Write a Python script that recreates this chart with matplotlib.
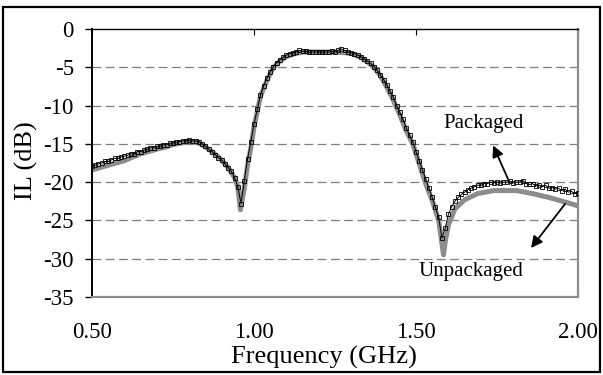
import numpy as np
import matplotlib
matplotlib.use("Agg")
import matplotlib.pyplot as plt
from matplotlib.patches import Rectangle

# frequency grid of the measured trace (GHz)
freq_pkg = np.round(np.arange(0.50, 2.001, 0.01), 2)
il_pkg = [
    -17.9, -17.8, -17.6, -17.5, -17.3, -17.3, -17.1, -16.9, -16.9, -16.7,
    -16.6, -16.5, -16.3, -16.3, -16.0, -16.0, -15.8, -15.7, -15.5, -15.5,
    -15.3, -15.3, -15.1, -15.1, -14.9, -14.9, -14.8, -14.7, -14.6, -14.6,
    -14.5, -14.6, -14.6, -14.7, -15.0, -15.3, -15.7, -16.0, -16.4, -16.8,
    -17.1, -17.6, -18.1, -18.6, -19.4, -20.6, -22.8, -19.8, -17.0, -14.8,
    -12.4, -10.5, -8.6, -7.4, -6.4, -5.6, -4.9, -4.4, -4.0, -3.7,
    -3.4, -3.2, -3.1, -3.0, -2.8, -2.9, -2.9, -3.0, -3.0, -3.0,
    -3.0, -3.0, -3.0, -3.0, -2.9, -3.0, -2.8, -2.6, -2.8, -3.0,
    -3.1, -3.2, -3.4, -3.6, -3.9, -4.2, -4.5, -4.9, -5.4, -6.0,
    -6.6, -7.3, -8.1, -8.9, -10.0, -10.9, -11.8, -12.9, -13.9, -14.8,
    -16.0, -17.2, -18.4, -19.6, -20.8, -22.0, -23.3, -24.6, -27.3, -26.0,
    -24.2, -23.2, -22.5, -22.0, -21.6, -21.3, -21.0, -20.8, -20.6, -20.4,
    -20.4, -20.2, -20.2, -20.0, -20.1, -20.0, -20.1, -20.0, -20.0, -19.9,
    -20.1, -20.0, -20.0, -19.8, -20.2, -20.3, -20.2, -20.5, -20.4, -20.6,
    -20.4, -20.8, -20.7, -20.9, -20.8, -21.1, -20.9, -21.3, -21.2, -21.5,
    -21.4,
]

freq_unpkg = [0.50, 0.55, 0.60, 0.627, 0.65, 0.70, 0.73, 0.75, 0.80, 0.83,
              0.85, 0.87, 0.90, 0.92, 0.94, 0.95, 0.958, 0.97, 0.98, 0.99,
              1.00, 1.02, 1.04, 1.06, 1.08, 1.10, 1.12, 1.14, 1.16, 1.20,
              1.25, 1.28, 1.30, 1.33, 1.35, 1.37, 1.39, 1.41, 1.43, 1.45,
              1.47, 1.49, 1.51, 1.53, 1.55, 1.57, 1.58, 1.585, 1.59, 1.60,
              1.62, 1.65, 1.69, 1.74, 1.81, 1.86, 1.91, 1.96, 2.00]
il_unpkg = [-18.4, -17.8, -17.2, -16.7, -16.3, -15.7, -15.4, -15.1, -14.7, -14.9,
            -15.4, -16.0, -17.1, -18.1, -19.4, -20.6, -23.6, -20.8, -17.8, -15.6,
            -12.8, -8.8, -6.7, -5.0, -4.2, -3.6, -3.3, -3.1, -3.0, -3.0,
            -3.0, -3.1, -3.2, -3.7, -4.3, -5.0, -6.1, -7.6, -9.3, -11.2,
            -13.3, -15.0, -17.6, -20.2, -22.4, -25.0, -28.0, -29.5, -27.8, -25.6,
            -23.5, -22.3, -21.5, -21.1, -21.1, -21.5, -22.0, -22.6, -23.1]

xticks = [0.5, 1.0, 1.5, 2.0]
xtick_labels = ["0.50", "1.00", "1.50", "2.00"]
yticks = [0, -5, -10, -15, -20, -25, -30, -35]

plt.rcParams["font.family"] = ["Liberation Serif", "DejaVu Serif"]

fig = plt.figure(figsize=(6.03, 3.75), dpi=100)
ax = fig.add_axes([92/603, 1-297/375, (578-92)/603, (297-29)/375])

ax.plot(freq_unpkg, il_unpkg, color="#8c8c8c", lw=3.6, zorder=2,
        solid_joinstyle="round", solid_capstyle="round")
ax.plot(freq_pkg, il_pkg, color="black", lw=0.7, marker="s", ms=2.2,
        mfc="none", mec="black", mew=0.6, zorder=3)

ax.set_xlim(0.5, 2.0)
ax.set_ylim(-35, 0)
ax.set_xticks(xticks)
ax.set_xticklabels(xtick_labels)
ax.set_yticks(yticks)
ax.set_yticklabels([str(v) for v in yticks])

for v in yticks[1:-1]:
    ax.axhline(v, color="#7f7f7f", lw=0.9, dashes=(7, 3.6), zorder=1)

ax.tick_params(axis="x", bottom=False, top=True, direction="in", length=4,
               labelbottom=True, labeltop=False, pad=18, labelsize=16.5)
ax.tick_params(axis="y", direction="out", length=5, width=1, pad=8, labelsize=16.5)

ax.spines["left"].set_color("black")
ax.spines["left"].set_linewidth(1.4)
ax.spines["top"].set_color("black")
ax.spines["top"].set_linewidth(1.0)
ax.spines["right"].set_color("#8c8c8c")
ax.spines["right"].set_linewidth(1.6)
ax.spines["bottom"].set_color("#8c8c8c")
ax.spines["bottom"].set_linewidth(1.6)

ax.annotate("", xy=(1.738, -15.2), xytext=(1.784, -19.6),
            arrowprops=dict(arrowstyle="-|>", color="black", lw=1.3, mutation_scale=17,
                            shrinkA=0, shrinkB=0))
ax.annotate("", xy=(1.855, -28.6), xytext=(1.960, -22.85),
            arrowprops=dict(arrowstyle="-|>", color="black", lw=1.3, mutation_scale=17,
                            shrinkA=0, shrinkB=0))
ax.text(1.707, -12.4, "Packaged", fontsize=15, ha="center", va="center")
ax.text(1.670, -31.7, "Unpackaged", fontsize=15, ha="center", va="center")

fig.text(324/603, 1-357/375, "Frequency (GHz)", fontsize=19, ha="center", va="center")
fig.text(26/603, 1-161/375, "IL (dB)", fontsize=19, ha="center", va="center", rotation=90)

fig.patches.append(Rectangle((3/603, 3/375), 597/603, 365/375, transform=fig.transFigure,
                             fill=False, edgecolor="black", lw=1.6))

fig.savefig("out.png", dpi=100)
